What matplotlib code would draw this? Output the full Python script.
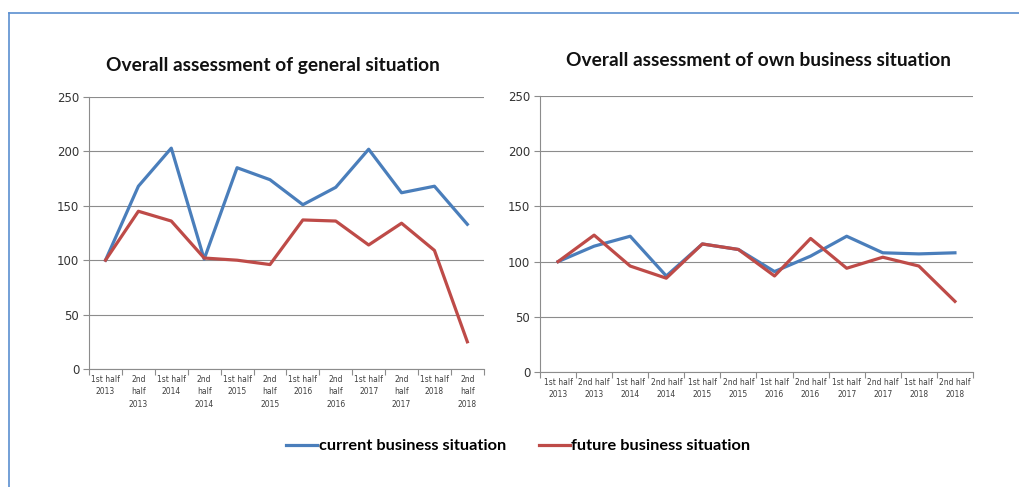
import matplotlib
matplotlib.use("Agg")
import matplotlib.pyplot as plt
from matplotlib.lines import Line2D

# half-year periods
labels_left = ["1st half\n2013", "2nd\nhalf\n2013", "1st half\n2014", "2nd\nhalf\n2014",
               "1st half\n2015", "2nd\nhalf\n2015", "1st half\n2016", "2nd\nhalf\n2016",
               "1st half\n2017", "2nd\nhalf\n2017", "1st half\n2018", "2nd\nhalf\n2018"]
labels_right = ["1st half\n2013", "2nd half\n2013", "1st half\n2014", "2nd half\n2014",
                "1st half\n2015", "2nd half\n2015", "1st half\n2016", "2nd half\n2016",
                "1st half\n2017", "2nd half\n2017", "1st half\n2018", "2nd half\n2018"]

general_current = [100, 168, 203, 101, 185, 174, 151, 167, 202, 162, 168, 133]
general_future = [100, 145, 136, 102, 100, 96, 137, 136, 114, 134, 109, 25]
own_current = [100, 114, 123, 87, 116, 111, 91, 105, 123, 108, 107, 108]
own_future = [100, 124, 96, 85, 116, 111, 87, 121, 94, 104, 96, 64]

BLUE = "#4a7ebb"
RED = "#be4b48"
GRID = "#8c8c8c"

fig = plt.figure(figsize=(10.2, 4.87), dpi=100)

def draw(ax, cur, fut, labels, title, title_x, title_y):
    x = range(len(cur))
    ax.plot(x, cur, color=BLUE, lw=2.3)
    ax.plot(x, fut, color=RED, lw=2.3)
    ax.set_ylim(0, 250)
    ax.set_yticks([0, 50, 100, 150, 200, 250])
    ax.set_xlim(-0.5, len(cur) - 0.5)
    ax.set_xticks([i - 0.5 for i in range(len(cur) + 1)])
    ax.set_xticklabels([])
    ax.set_xticks(list(x), minor=True)
    ax.set_xticklabels(labels, minor=True, fontsize=5.5, color="#404040", linespacing=1.5)
    ax.tick_params(axis="x", which="minor", length=0, pad=4)
    ax.tick_params(axis="x", which="major", length=4, color=GRID, width=0.8)
    ax.tick_params(axis="y", length=4, color=GRID, width=0.8, labelsize=8.5,
                   labelcolor="#333333", pad=3)
    ax.grid(axis="y", color=GRID, lw=0.8)
    ax.set_axisbelow(True)
    for s in ["top", "right"]:
        ax.spines[s].set_visible(False)
    for s in ["left", "bottom"]:
        ax.spines[s].set_color(GRID)
        ax.spines[s].set_linewidth(0.8)
    fig.text(title_x, title_y, title, ha="center", va="center",
             fontsize=13.8, fontweight="bold", family="Lato", color="#111111")

ax1 = fig.add_axes([0.0873, 0.2423, 0.387, 0.5585])
draw(ax1, general_current, general_future, labels_left,
     "Overall assessment of general situation", 273 / 1020, 1 - 65 / 487)
ax2 = fig.add_axes([0.5294, 0.2361, 0.4245, 0.5667])
draw(ax2, own_current, own_future, labels_right,
     "Overall assessment of own business situation", 759 / 1020, 1 - 60 / 487)

handles = [Line2D([], [], color=BLUE, lw=2.3), Line2D([], [], color=RED, lw=2.3)]
fig.legend(handles, ["current business situation", "future business situation"],
           loc="center", bbox_to_anchor=(0.508, 1 - 446 / 487), ncol=2, frameon=False,
           handlelength=1.9, handletextpad=0.1, columnspacing=2.0,
           prop={"family": "Lato", "weight": "bold", "size": 11.8})

# outer chart border (top and left visible)
fig.add_artist(Line2D([9 / 1020, 1.0], [1 - 13 / 487, 1 - 13 / 487],
                      transform=fig.transFigure, color="#5b8fd0", lw=1.2))
fig.add_artist(Line2D([9 / 1020, 9 / 1020], [0.0, 1 - 13 / 487],
                      transform=fig.transFigure, color="#5b8fd0", lw=1.2))

fig.savefig("out.png", dpi=100)
